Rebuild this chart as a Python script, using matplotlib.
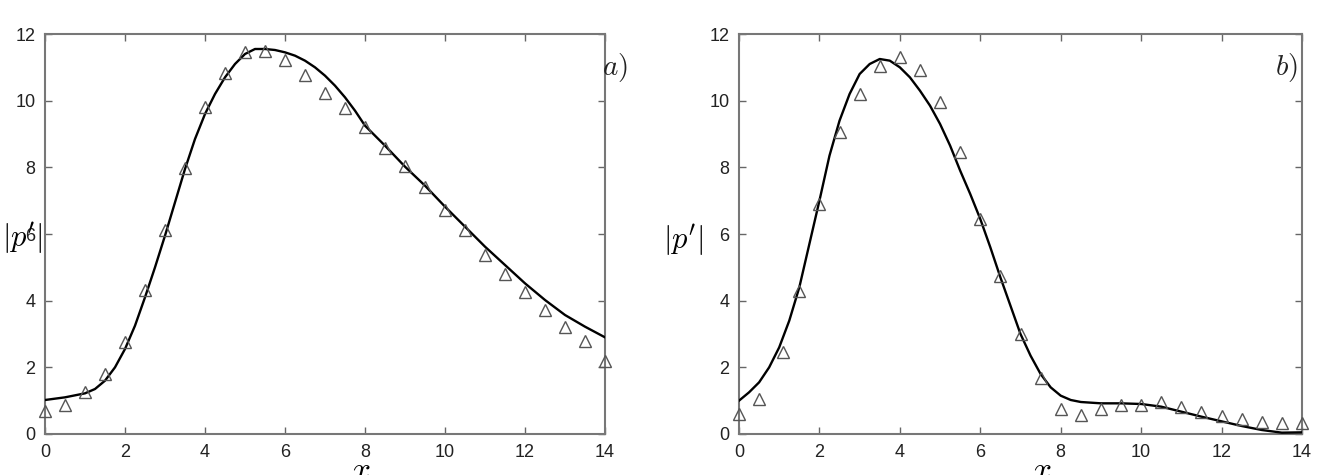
import numpy as np
import matplotlib.pyplot as plt

plt.rcParams['font.family'] = ['Liberation Sans', 'DejaVu Sans']
plt.rcParams['mathtext.fontset'] = 'cm'

# panel a) - symbols
xa_pts = [0, 0.5, 1, 1.5, 2, 2.5, 3, 3.5, 4, 4.5, 5, 5.5, 6, 6.5, 7, 7.5, 8, 8.5, 9, 9.5,
          10, 10.5, 11, 11.5, 12, 12.5, 13, 13.5, 14]
ya_pts = [0.70, 0.87, 1.27, 1.80, 2.77, 4.32, 6.12, 7.97, 9.80, 10.82, 11.45, 11.50, 11.22,
          10.77, 10.24, 9.77, 9.20, 8.57, 8.05, 7.42, 6.72, 6.12, 5.37, 4.80, 4.27, 3.72,
          3.22, 2.80, 2.20]
# panel a) - line
xa_line = [0, 0.5, 1.0, 1.25, 1.5, 1.75, 2.0, 2.25, 2.5, 2.75, 3.0, 3.25, 3.5, 3.75, 4.0,
           4.25, 4.5, 4.75, 5.0, 5.25, 5.5, 5.75, 6.0, 6.25, 6.5, 6.75, 7.0, 7.25, 7.5,
           7.75, 8.0, 8.25, 8.5, 9, 9.5, 10, 10.5, 11, 11.5, 12, 12.5, 13, 13.5, 14]
ya_line = [1.02, 1.10, 1.22, 1.35, 1.60, 2.00, 2.55, 3.25, 4.10, 5.00, 5.95, 6.95, 7.95,
           8.85, 9.60, 10.20, 10.70, 11.10, 11.40, 11.55, 11.55, 11.52, 11.45, 11.35,
           11.20, 11.00, 10.75, 10.45, 10.10, 9.70, 9.25, 8.95, 8.65, 8.02, 7.45, 6.82,
           6.22, 5.62, 5.07, 4.52, 4.02, 3.57, 3.22, 2.90]

# panel b) - symbols
xb_pts = [0, 0.5, 1.1, 1.5, 2, 2.5, 3, 3.5, 4, 4.5, 5, 5.5, 6, 6.5, 7, 7.5, 8, 8.5, 9, 9.5,
          10, 10.5, 11, 11.5, 12, 12.5, 13, 13.5, 14]
yb_pts = [0.59, 1.04, 2.45, 4.28, 6.89, 9.07, 10.20, 11.03, 11.30, 10.92, 9.97, 8.45, 6.46,
          4.73, 3.01, 1.67, 0.74, 0.57, 0.74, 0.87, 0.87, 0.97, 0.80, 0.65, 0.54, 0.45,
          0.37, 0.34, 0.34]
# panel b) - line
xb_line = [0, 0.25, 0.5, 0.75, 1.0, 1.25, 1.5, 1.75, 2.0, 2.25, 2.5, 2.75, 3.0, 3.25, 3.5,
           3.75, 4.0, 4.25, 4.5, 4.75, 5.0, 5.25, 5.5, 5.75, 6.0, 6.25, 6.5, 6.75, 7.0,
           7.25, 7.5, 7.75, 8.0, 8.25, 8.5, 9, 9.5, 10, 10.5, 11, 11.5, 12, 12.5, 13,
           13.5, 14]
yb_line = [1.00, 1.25, 1.55, 2.00, 2.60, 3.40, 4.40, 5.70, 7.00, 8.35, 9.40, 10.20, 10.80,
           11.10, 11.25, 11.20, 11.00, 10.70, 10.30, 9.85, 9.30, 8.65, 7.90, 7.20, 6.45,
           5.60, 4.70, 3.85, 3.00, 2.35, 1.80, 1.40, 1.15, 1.02, 0.96, 0.92, 0.92, 0.90,
           0.82, 0.67, 0.52, 0.38, 0.24, 0.12, 0.04, 0.05]

W, H = 1317, 475
fig = plt.figure(figsize=(W / 100, H / 100), dpi=100)
axa = fig.add_axes([45 / W, 41 / H, 560 / W, 400 / H])
axb = fig.add_axes([739 / W, 41 / H, 563 / W, 400 / H])

for ax, xl, yl, xp, yp in [(axa, xa_line, ya_line, xa_pts, ya_pts),
                           (axb, xb_line, yb_line, xb_pts, yb_pts)]:
    ax.plot(xl, yl, color='black', lw=1.7, zorder=3)
    ax.plot(xp, yp, ls='none', marker='^', ms=9, mfc='none', mec='#555555', mew=1.0,
            zorder=4, clip_on=False)
    ax.set_xlim(0, 14)
    ax.set_ylim(0, 12)
    ax.set_xticks(range(0, 15, 2))
    ax.set_yticks(range(0, 13, 2))
    ax.tick_params(direction='in', top=True, right=True, length=5, width=1,
                   labelsize=13, colors='#666666', labelcolor='#222222', pad=7)
    for s in ax.spines.values():
        s.set_color('#777777')
        s.set_linewidth(1.5)

axa.text(14.57, 11.0, r'$a)$', fontsize=21, ha='right', va='center', color='#222222')
axb.text(13.9, 11.0, r'$b)$', fontsize=21, ha='right', va='center', color='#222222')

fig.text(22 / W, 1 - 238 / H, r"$|p'|$", fontsize=22, ha='center', va='center')
fig.text(683 / W, 1 - 240 / H, r"$|p'|$", fontsize=22, ha='center', va='center')
fig.text(361 / W, 1 - 456 / H, r'$x$', fontsize=24, ha='center', va='top')
fig.text(1042 / W, 1 - 456 / H, r'$x$', fontsize=24, ha='center', va='top')

fig.savefig('out.png', dpi=100)
